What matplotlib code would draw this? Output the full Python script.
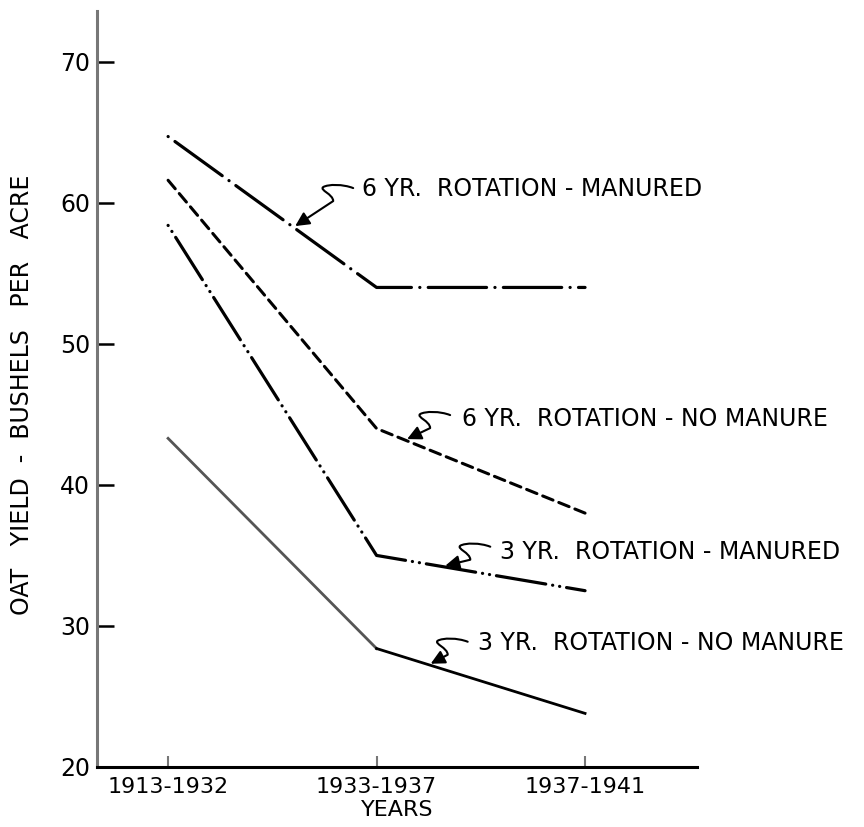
import numpy as np
import matplotlib
matplotlib.use("Agg")
import matplotlib.pyplot as plt
from matplotlib.path import Path
from matplotlib.patches import FancyArrowPatch
from matplotlib.transforms import IdentityTransform

# data
periods = ["1913-1932", "1933-1937", "1937-1941"]
x_pos = [0, 1, 2]
six_yr_manured = [64.7, 54.0, 54.0]
six_yr_no_manure = [61.6, 44.0, 38.0]
three_yr_manured = [58.4, 35.0, 32.5]
three_yr_no_manure = [43.3, 28.4, 23.8]
y_ticks = [20, 30, 40, 50, 60, 70]

labels = ["6 YR.  ROTATION - MANURED",
          "6 YR.  ROTATION - NO MANURE",
          "3 YR.  ROTATION - MANURED",
          "3 YR.  ROTATION - NO MANURE"]

plt.rcParams["font.family"] = "DejaVu Sans"
plt.rcParams["lines.scale_dashes"] = False

fig = plt.figure(figsize=(8.64, 8.27), dpi=100)
ax = fig.add_axes([97 / 864, 60 / 827, 600 / 864, 756 / 827])
ax.set_xlim(-0.341, 2.537)
ax.set_ylim(20, 73.6)

# lines
l1, = ax.plot(x_pos, six_yr_manured, color="black", lw=2.3,
              dash_capstyle="round")
l1.set_dashes((0.1, 6, 42, 6))
l2, = ax.plot(x_pos, six_yr_no_manure, color="black", lw=2.2,
              dash_capstyle="round")
l2.set_dashes((8, 4.5))
l3, = ax.plot(x_pos, three_yr_manured, color="black", lw=2.3,
              dash_capstyle="round")
l3.set_dashes((0.1, 5, 0.1, 5, 36, 5))
ax.plot(x_pos[:2], three_yr_no_manure[:2], color="#555555", lw=2.0)
ax.plot(x_pos[1:], three_yr_no_manure[1:], color="black", lw=2.0)

# axes styling
for side in ["top", "right"]:
    ax.spines[side].set_visible(False)
ax.spines["left"].set_color("#777777")
ax.spines["left"].set_linewidth(2.2)
ax.spines["bottom"].set_color("black")
ax.spines["bottom"].set_linewidth(2.2)

ax.set_yticks(y_ticks)
ax.set_yticklabels([str(v) for v in y_ticks], fontsize=17)
ax.set_xticks(x_pos)
ax.set_xticklabels(periods, fontsize=16)
ax.tick_params(axis="y", direction="in", length=12, width=1.8, pad=5, color="black")
ax.tick_params(axis="x", direction="in", length=8, width=1.5, pad=7, color="#777777")

ax.set_xlabel("YEARS", fontsize=16, labelpad=2)
fig.text(22 / 864, (827 - 395) / 827, "OAT   YIELD  -  BUSHELS   PER   ACRE",
         rotation=90, fontsize=17, ha="center", va="center")

# annotations with wavy leaders
series = [six_yr_manured, six_yr_no_manure, three_yr_manured, three_yr_no_manure]
tip_x = [0.60, 1.137, 1.32, 1.25]
start_off = [(60, 39), (45, 25), (47, 20), (39, 23)]
text_off = [(69, 38), (57, 21), (57, 15), (49, 22)]

fig.canvas.draw()
for ys, tx, so, to, lab in zip(series, tip_x, start_off, text_off, labels):
    ty = np.interp(tx, x_pos, ys)
    px, py = ax.transData.transform((tx, ty))
    sx, sy = px + so[0], py + so[1]
    verts = [(sx, sy),
             (sx - 10, sy + 4), (sx - 25, sy + 4), (sx - 30, sy + 1),
             (sx - 34, sy - 2), (sx - 20, sy - 6), (sx - 20, sy - 13),
             (px + 2, py + 1)]
    codes = [Path.MOVETO, Path.CURVE4, Path.CURVE4, Path.CURVE4,
             Path.CURVE4, Path.CURVE4, Path.CURVE4, Path.LINETO]
    arrow = FancyArrowPatch(path=Path(verts, codes), arrowstyle="-|>,head_length=0.6,head_width=0.3",
                            mutation_scale=14, color="black", lw=1.5,
                            transform=IdentityTransform())
    fig.add_artist(arrow)
    fig.text((px + to[0]) / 864, (py + to[1]) / 827, lab, fontsize=17,
             ha="left", va="center")

fig.savefig("out.png", dpi=100)
